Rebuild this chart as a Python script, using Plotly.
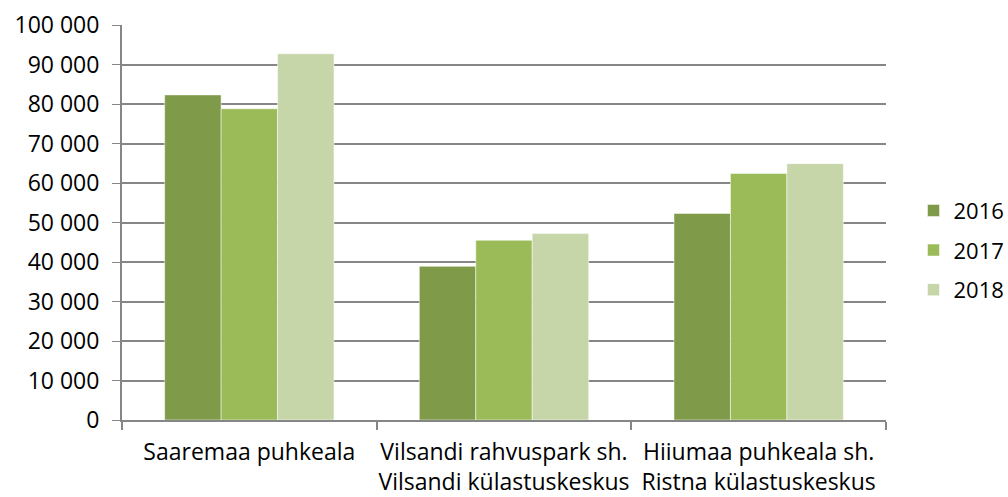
import plotly.graph_objects as go

categories = ["Saaremaa puhkeala",
              "Vilsandi rahvuspark sh.<br>Vilsandi külastuskeskus",
              "Hiiumaa puhkeala sh.<br>Ristna külastuskeskus"]
years = ["2016", "2017", "2018"]
values_2016 = [82300, 38900, 52300]
values_2017 = [78800, 45500, 62400]
values_2018 = [92700, 47200, 64900]
colors = ["#7F9A48", "#9BBB59", "#C6D6A9"]
y_ticks = [0, 10000, 20000, 30000, 40000, 50000, 60000, 70000, 80000, 90000, 100000]

font_family = "Open Sans, Noto Sans, sans-serif"

fig = go.Figure()
for name, vals, col in zip(years, [values_2016, values_2017, values_2018], colors):
    fig.add_trace(go.Bar(x=categories, y=vals, name=name, legendgroup=name,
                         marker=dict(color=col, line=dict(color="white", width=0.5))))

fig.update_layout(
    width=1008, height=497,
    barmode="group", bargap=0.335, bargroupgap=0,
    separators=", ",
    paper_bgcolor="white", plot_bgcolor="white",
    margin=dict(l=122, r=122, t=25, b=77, autoexpand=False),
    font=dict(family=font_family, size=23, color="black"),
    legend=dict(x=1.036, y=0.43, xanchor="left", yanchor="middle",
                font=dict(size=22), tracegroupgap=8, itemwidth=30),
    xaxis=dict(showline=True, linecolor="#868686", linewidth=2,
               ticks="outside", tickson="boundaries", ticklen=8,
               tickcolor="#868686", tickwidth=1.5, showgrid=False,
               tickangle=0, ticklabelstandoff=10, automargin=False),
    yaxis=dict(range=[0, 100000], tickvals=y_ticks, tickformat=",d",
               showline=True, linecolor="#868686", linewidth=2,
               ticks="outside", ticklen=8, tickcolor="#868686",
               showgrid=True, gridcolor="#868686", gridwidth=1.5,
               ticklabelstandoff=8,
               zeroline=False, automargin=False),
)

fig.write_html(
    "out.html",
    config={"displayModeBar": False},
    post_script="document.body.style.margin='0px';document.body.style.overflow='hidden';",
)
